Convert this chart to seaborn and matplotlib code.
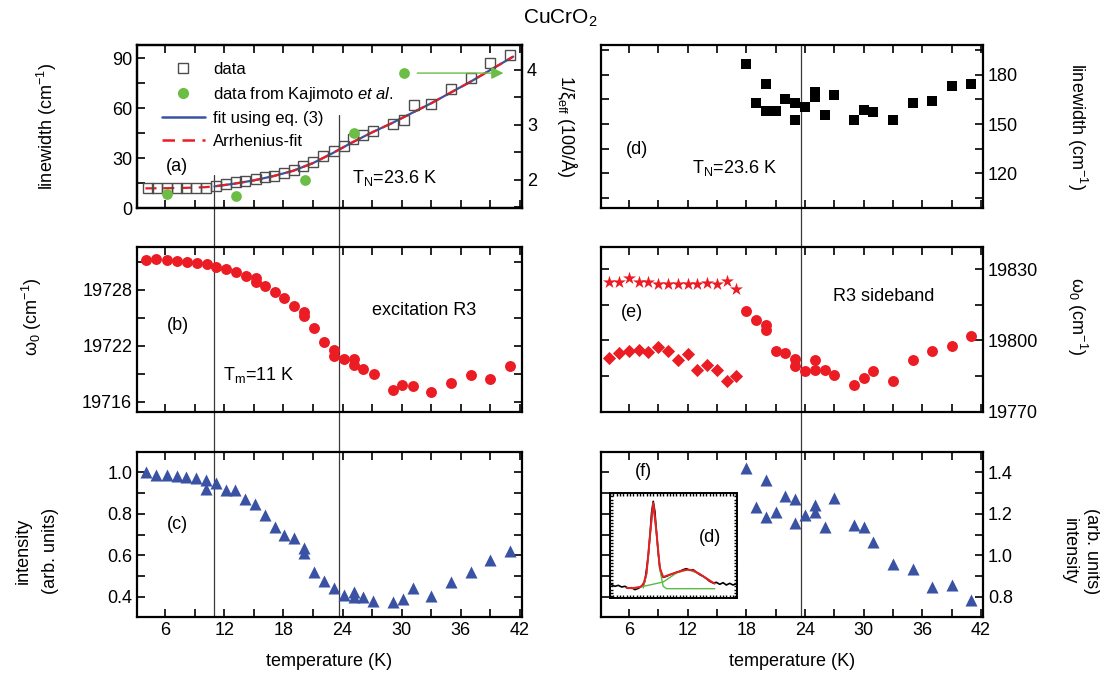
import seaborn as sns
import matplotlib.pyplot as plt
from matplotlib.lines import Line2D
from matplotlib.ticker import MultipleLocator, FormatStrFormatter, NullFormatter

sns.set_style("ticks")
plt.rcParams['font.family'] = ['Liberation Sans', 'DejaVu Sans']
plt.rcParams['mathtext.fontset'] = 'custom'
plt.rcParams['mathtext.rm'] = 'Liberation Sans'
plt.rcParams['mathtext.it'] = 'Liberation Sans:italic'
for k in ['text.color', 'axes.labelcolor', 'xtick.color', 'ytick.color', 'axes.edgecolor']:
    plt.rcParams[k] = 'black'

RED = '#ec1c24'
BLUE = '#3a52a3'
GREEN = '#6cbd45'

# ---------------- data ----------------
# (a) linewidth of R3 + correlation length from Kajimoto et al.
T_a = [4.3, 5.2, 6.2, 7.2, 8.1, 9.1, 10.1, 11.2, 12.2, 13.2, 14.1, 15.2, 16.1, 17.0, 18.1, 19.1,
       20.0, 21.0, 22.0, 23.1, 24.1, 25.1, 26.1, 27.1, 29.1, 30.2, 31.2, 33.0, 35.0, 37.0, 39.0, 41.0]
lw_a = [12.0, 12.0, 12.0, 12.0, 12.2, 12.2, 12.2, 13.0, 14.6, 15.4, 16.0, 17.4, 18.4, 19.4, 21.0, 22.6,
        25.0, 27.6, 31.4, 34.2, 37.4, 41.6, 43.6, 46.4, 50.4, 53.0, 62.0, 62.6, 71.4, 78.0, 87.0, 92.2]
T_kaj = [6.2, 13.2, 20.2, 25.2, 30.2]
xi_kaj = [1.745, 1.70, 2.0, 2.85, 3.94]
T_fit3 = [11, 13, 15, 17, 19, 21, 23, 25, 27, 29, 31, 33, 35, 37, 39, 41.3]
fit3 = [13.0, 14.6, 16.6, 19.2, 22.4, 27.0, 33.0, 39.5, 45.5, 51.0, 57.0, 63.0, 69.5, 76.0, 83.0, 91.0]
T_arr = [4, 6, 8, 10, 11, 13, 15, 17, 19, 21, 23, 25, 27, 29, 31, 33, 35, 37, 39, 41.3]
fit_arr = [11.8, 11.9, 12.1, 12.5, 13.0, 14.6, 16.6, 19.2, 22.4, 27.0, 33.0, 39.5, 45.5, 51.0,
           57.0, 63.0, 69.5, 76.0, 83.0, 91.0]

# (b) peak position of excitation R3
T_b = [4.1, 5.1, 6.2, 7.2, 8.2, 9.2, 10.2, 11.2, 12.2, 13.2, 14.2, 15.2, 15.2, 16.1, 17.1, 18.1, 19.1,
       20.1, 20.1, 21.1, 22.1, 23.1, 23.1, 24.1, 25.2, 25.2, 26.1, 27.2, 29.1, 30.0, 31.1, 33.0, 35.0,
       37.0, 39.0, 41.0]
w_b = [19731.25, 19731.28, 19731.18, 19731.1, 19731.0, 19730.9, 19730.75, 19730.47, 19730.22,
       19729.87, 19729.52, 19729.24, 19728.88, 19728.46, 19727.82, 19727.12, 19726.31, 19725.6,
       19725.18, 19723.94, 19722.42, 19721.58, 19720.94, 19720.59, 19720.59, 19719.95, 19719.53,
       19718.96, 19717.23, 19717.83, 19717.69, 19717.06, 19718.0, 19718.89, 19718.4, 19719.88]

# (c) intensity of R3
T_c = [4.1, 5.1, 6.2, 7.2, 8.1, 9.1, 10.1, 10.1, 11.2, 12.2, 13.1, 14.1, 15.1, 16.1, 17.1, 18.1, 19.1,
       20.1, 20.1, 21.1, 22.1, 23.1, 24.1, 25.2, 25.2, 26.1, 27.1, 29.1, 30.1, 31.1, 33.0, 35.0, 37.0,
       39.0, 41.0]
I_c = [1.003, 0.987, 0.987, 0.984, 0.979, 0.974, 0.963, 0.92, 0.947, 0.915, 0.915, 0.871, 0.846, 0.794,
       0.738, 0.698, 0.685, 0.634, 0.61, 0.521, 0.478, 0.441, 0.409, 0.40, 0.425, 0.398, 0.381, 0.376,
       0.388, 0.441, 0.404, 0.473, 0.521, 0.577, 0.621]

# (d)-(f) R3 sideband
T_hi = [18, 19, 20, 20, 21, 22, 23, 23, 24, 25, 25, 26, 27, 29, 30, 31, 33, 35, 37, 39, 41]
lw_d = [186.5, 162.8, 174.3, 157.7, 158.1, 165.2, 162.8, 152.2, 160.3, 169.2, 166.4, 155.7, 167.8,
        152.6, 158.3, 157.5, 152.2, 162.8, 164.2, 172.9, 174.3]
T_lo = [4, 5, 6, 7, 8, 9, 10, 11, 12, 13, 14, 15, 16, 17]
w_star = [19824.6, 19824.6, 19826.2, 19824.8, 19824.8, 19823.9, 19823.9, 19823.9, 19823.9, 19823.9,
          19824.4, 19823.6, 19825.1, 19821.5]
w_diam = [19792.6, 19794.7, 19795.7, 19796.1, 19795.0, 19797.2, 19795.7, 19791.9, 19794.3, 19787.6,
          19789.5, 19787.4, 19783.0, 19784.8]
w_e = [19812.6, 19808.8, 19806.4, 19804.2, 19795.7, 19794.7, 19792.3, 19789.1, 19786.9, 19791.6,
       19787.6, 19787.4, 19785.5, 19781.0, 19784.1, 19787.2, 19782.7, 19791.6, 19795.4, 19797.5, 19801.8]
T_f = [18, 20, 19, 20, 21, 22, 23, 23, 24, 25, 25, 26, 27, 29, 30, 31, 33, 35, 37, 39, 41]
I_f = [1.419, 1.363, 1.234, 1.182, 1.21, 1.285, 1.271, 1.153, 1.194, 1.242, 1.21, 1.134, 1.277, 1.145,
       1.134, 1.065, 0.96, 0.935, 0.847, 0.855, 0.785]

# inset spectrum (arbitrary units)
sp_x = [35, 45, 55, 65, 75, 85, 95, 105, 115, 125, 135, 145, 150, 155, 160, 165, 170, 175, 180, 185,
        190, 200, 210, 220, 230, 240, 250, 260, 270, 280, 290, 300, 310, 320, 330, 340, 350, 360, 370,
        380, 390, 400, 410]
sp_y = [45, 40, 43, 38, 40, 34, 36, 30, 34, 40, 55, 130, 190, 260, 295, 265, 200, 140, 95, 75, 67, 70,
        75, 78, 82, 85, 90, 93, 88, 90, 82, 75, 70, 63, 55, 50, 52, 46, 51, 44, 49, 44, 48]
sp_fit_x = [80, 100, 120, 130, 140, 150, 160, 170, 180, 190, 210, 230, 250, 265, 280, 300, 320, 335, 345]
sp_fit = [35, 35, 38, 45, 80, 190, 290, 200, 95, 68, 75, 82, 88, 90, 88, 77, 64, 54, 48]
sp_g1_x = [130, 140, 150, 160, 170, 180, 190, 200, 345]
sp_g1 = [35, 75, 185, 290, 195, 90, 40, 33, 33]
sp_g2_x = [95, 140, 190, 230, 265, 300, 345]
sp_g2 = [33, 42, 53, 80, 90, 77, 48]

T_m, T_N = 11, 23.6

# ---------------- layout ----------------
W, H = 1100, 692
fig = plt.figure(figsize=(11, 6.92), dpi=100)


def box(x0, x1, y0, y1):
    return [x0 / W, 1 - y1 / H, (x1 - x0) / W, (y1 - y0) / H]


ax_a = fig.add_axes(box(137, 522, 45, 208))
ax_b = fig.add_axes(box(137, 522, 247, 412))
ax_c = fig.add_axes(box(137, 522, 452, 617))
ax_d = fig.add_axes(box(601, 983, 45, 208))
ax_e = fig.add_axes(box(601, 983, 247, 412))
ax_f = fig.add_axes(box(601, 983, 452, 617))


def style(ax, ylim, ymaj, ymin, fmt, right=False, bottom=False):
    ax.set_facecolor('none')
    ax.set_xlim(3.15, 42.2)
    ax.set_ylim(*ylim)
    ax.xaxis.set_major_locator(MultipleLocator(6))
    ax.xaxis.set_minor_locator(MultipleLocator(3))
    ax.yaxis.set_major_locator(MultipleLocator(ymaj))
    ax.yaxis.set_minor_locator(MultipleLocator(ymin))
    ax.yaxis.set_major_formatter(FormatStrFormatter(fmt))
    ax.tick_params(which='both', direction='in', top=True, right=True, left=True, bottom=True,
                   length=6, width=1.2, labelsize=13, colors='black',
                   labelleft=not right, labelright=right, labelbottom=bottom)
    for s in ax.spines.values():
        s.set_linewidth(1.6)
        s.set_color('black')
    if right:
        ax.yaxis.set_label_position('right')
    if bottom:
        ax.set_xlabel('temperature (K)', fontsize=13, labelpad=10)


style(ax_a, (0, 98), 30, 15, '%d')
style(ax_b, (19714.9, 19732.6), 6, 3, '%d')
style(ax_c, (0.302, 1.098), 0.2, 0.1, '%.1f', bottom=True)
style(ax_d, (99, 198), 30, 15, '%d', right=True)
style(ax_e, (19769.8, 19839.4), 30, 15, '%d', right=True)
style(ax_f, (0.703, 1.497), 0.2, 0.1, '%.1f', right=True, bottom=True)
ax_a.tick_params(which='both', right=False)

# panel (a)
ax_a2 = ax_a.twinx()
ax_a2.set_ylim(1.49, 4.45)
ax_a2.yaxis.set_major_locator(MultipleLocator(1))
ax_a2.yaxis.set_minor_locator(MultipleLocator(0.5))
ax_a2.tick_params(which='both', direction='in', length=6, width=1.2, labelsize=13)
for s in ax_a2.spines.values():
    s.set_linewidth(1.6)

sns.lineplot(x=T_arr, y=fit_arr, ax=ax_a, color=RED, lw=1.6, dashes=(5, 3), sort=False,
             estimator=None, zorder=3)
sns.lineplot(x=T_fit3, y=fit3, ax=ax_a, color=BLUE, lw=1.6, sort=False, estimator=None, zorder=2)
sns.lineplot(x=T_a, y=lw_a, ax=ax_a, marker='s', linestyle='', mfc='none', mec='#4d4d4d',
             mew=1.0, ms=6.5, sort=False, estimator=None, zorder=4)
sns.scatterplot(x=T_kaj, y=xi_kaj, ax=ax_a2, color=GREEN, s=60, linewidth=0, zorder=5)
ax_a2.annotate('', xy=(40.6, xi_kaj[-1]), xytext=(31.3, xi_kaj[-1]),
               arrowprops=dict(arrowstyle='-|>', color=GREEN, lw=1.0, mutation_scale=18))

handles = [
    Line2D([], [], marker='s', ls='', mfc='none', mec='#4d4d4d', ms=6.5),
    Line2D([], [], marker='o', ls='', color=GREEN, ms=7),
    Line2D([], [], color=BLUE, lw=1.8),
    Line2D([], [], color=RED, lw=1.8, dashes=(5, 3)),
]
labels = ['data', r'data from Kajimoto $\it{et\ al.}$', 'fit using eq. (3)', 'Arrhenius-fit']
ax_a.legend(handles, labels, loc='upper left', bbox_to_anchor=(0.047, 0.935), frameon=False,
            fontsize=12, handlelength=2.6, handletextpad=0.5, labelspacing=0.45, borderaxespad=0)

ax_a.set_ylabel(r'linewidth (cm$\mathregular{^{-1}}$)', fontsize=13, va='center')
ax_a.yaxis.set_label_coords(-0.234, 0.5)
ax_a2.set_ylabel(r'1/$\mathregular{\xi_{eff}}$ (100/Å)', fontsize=13, rotation=270, va='center')
ax_a2.yaxis.set_label_coords(1.117, 0.5)
ax_a.text(0.103, 0.253, '(a)', transform=ax_a.transAxes, fontsize=13, ha='center', va='center')
ax_a.text(0.558, 0.184, r'T$\mathregular{_N}$=23.6 K', transform=ax_a.transAxes, fontsize=13,
          va='center')

# panel (b)
sns.scatterplot(x=T_b, y=w_b, ax=ax_b, color=RED, s=62, linewidth=0, zorder=3)
ax_b.set_ylabel(r'$\mathregular{\omega_0}$ (cm$\mathregular{^{-1}}$)', fontsize=13, va='center')
ax_b.yaxis.set_label_coords(-0.272, 0.58)
ax_b.text(0.106, 0.527, '(b)', transform=ax_b.transAxes, fontsize=13, ha='center', va='center')
ax_b.text(0.61, 0.618, 'excitation R3', transform=ax_b.transAxes, fontsize=13, va='center')
ax_b.text(0.223, 0.224, r'T$\mathregular{_m}$=11 K', transform=ax_b.transAxes, fontsize=13,
          va='center')

# panel (c)
sns.scatterplot(x=T_c, y=I_c, ax=ax_c, color=BLUE, marker='^', s=75, linewidth=0, zorder=3)
ax_c.set_ylabel('intensity\n(arb. units)', fontsize=13, linespacing=1.75, va='center')
ax_c.yaxis.set_label_coords(-0.26, 0.4)
ax_c.text(0.104, 0.558, '(c)', transform=ax_c.transAxes, fontsize=13, ha='center', va='center')

# panel (d)
sns.scatterplot(x=T_hi, y=lw_d, ax=ax_d, color='black', marker='s', s=55, linewidth=0, zorder=3)
ax_d.set_ylabel(r'linewidth (cm$\mathregular{^{-1}}$)', fontsize=13, rotation=270, va='center')
ax_d.yaxis.set_label_coords(1.247, 0.5)
ax_d.text(0.094, 0.356, '(d)', transform=ax_d.transAxes, fontsize=13, ha='center', va='center')
ax_d.text(0.238, 0.245, r'T$\mathregular{_N}$=23.6 K', transform=ax_d.transAxes, fontsize=13,
          va='center')

# panel (e)
sns.scatterplot(x=T_lo, y=w_star, ax=ax_e, color=RED, marker='*', s=95, linewidth=0, zorder=3)
sns.scatterplot(x=T_lo, y=w_diam, ax=ax_e, color=RED, marker='D', s=45, linewidth=0, zorder=3)
sns.scatterplot(x=T_hi, y=w_e, ax=ax_e, color=RED, s=62, linewidth=0, zorder=3)
ax_e.set_ylabel(r'$\mathregular{\omega_0}$ (cm$\mathregular{^{-1}}$)', fontsize=13, rotation=270,
                va='center')
ax_e.yaxis.set_label_coords(1.247, 0.58)
ax_e.text(0.081, 0.606, '(e)', transform=ax_e.transAxes, fontsize=13, ha='center', va='center')
ax_e.text(0.607, 0.697, 'R3 sideband', transform=ax_e.transAxes, fontsize=13, va='center')

# panel (f)
sns.scatterplot(x=T_f, y=I_f, ax=ax_f, color=BLUE, marker='^', s=75, linewidth=0, zorder=3)
ax_f.set_ylabel('(arb. units)\nintensity', fontsize=13, rotation=270, va='center',
                linespacing=1.4)
ax_f.yaxis.set_label_coords(1.255, 0.4)
ax_f.text(0.11, 0.879, '(f)', transform=ax_f.transAxes, fontsize=13, ha='center', va='center')

# inset spectrum
ax_in = fig.add_axes(box(610, 737, 493, 598))
ax_in.set_facecolor('white')
sns.lineplot(x=sp_x, y=sp_y, ax=ax_in, color='black', lw=1.2, sort=False, estimator=None)
sns.lineplot(x=sp_g2_x, y=sp_g2, ax=ax_in, color='#5cb946', lw=1.0, sort=False, estimator=None)
sns.lineplot(x=sp_g1_x, y=sp_g1, ax=ax_in, color='#5cb946', lw=1.0, sort=False, estimator=None)
sns.lineplot(x=sp_fit_x, y=sp_fit, ax=ax_in, color=RED, lw=1.4, sort=False, estimator=None)
ax_in.set_xlim(30, 412)
ax_in.set_ylim(5, 320)
ax_in.xaxis.set_major_locator(MultipleLocator(50))
ax_in.xaxis.set_minor_locator(MultipleLocator(10))
ax_in.yaxis.set_major_locator(MultipleLocator(50))
ax_in.yaxis.set_minor_locator(MultipleLocator(10))
ax_in.xaxis.set_major_formatter(NullFormatter())
ax_in.yaxis.set_major_formatter(NullFormatter())
ax_in.tick_params(which='both', direction='in', top=True, right=True, length=2, width=1,
                  labelbottom=False, labelleft=False)
ax_in.set_xlabel('')
ax_in.set_ylabel('')
for s in ax_in.spines.values():
    s.set_linewidth(1.4)
ax_in.text(0.787, 0.58, '(d)', transform=ax_in.transAxes, fontsize=13, ha='center', va='center')

# vertical guide lines at T_m and T_N
to_fig = fig.transFigure.inverted()


def vline(ax_top, y_top, ax_bot, T):
    x0, y0 = to_fig.transform(ax_top.transData.transform((T, y_top)))
    x1, y1 = to_fig.transform(ax_bot.transData.transform((T, ax_bot.get_ylim()[0])))
    fig.add_artist(Line2D([x0, x1], [y0, y1], transform=fig.transFigure, color='#3a3a3a',
                          lw=0.9, zorder=-1))


vline(ax_a, 20, ax_c, T_m)
vline(ax_a, 56, ax_c, T_N)
vline(ax_d, ax_d.get_ylim()[1], ax_f, T_N)

fig.text(0.509, 0.974, r'CuCrO$\mathregular{_2}$', fontsize=15, ha='center', va='center')

plt.savefig('out.png', dpi=100)
